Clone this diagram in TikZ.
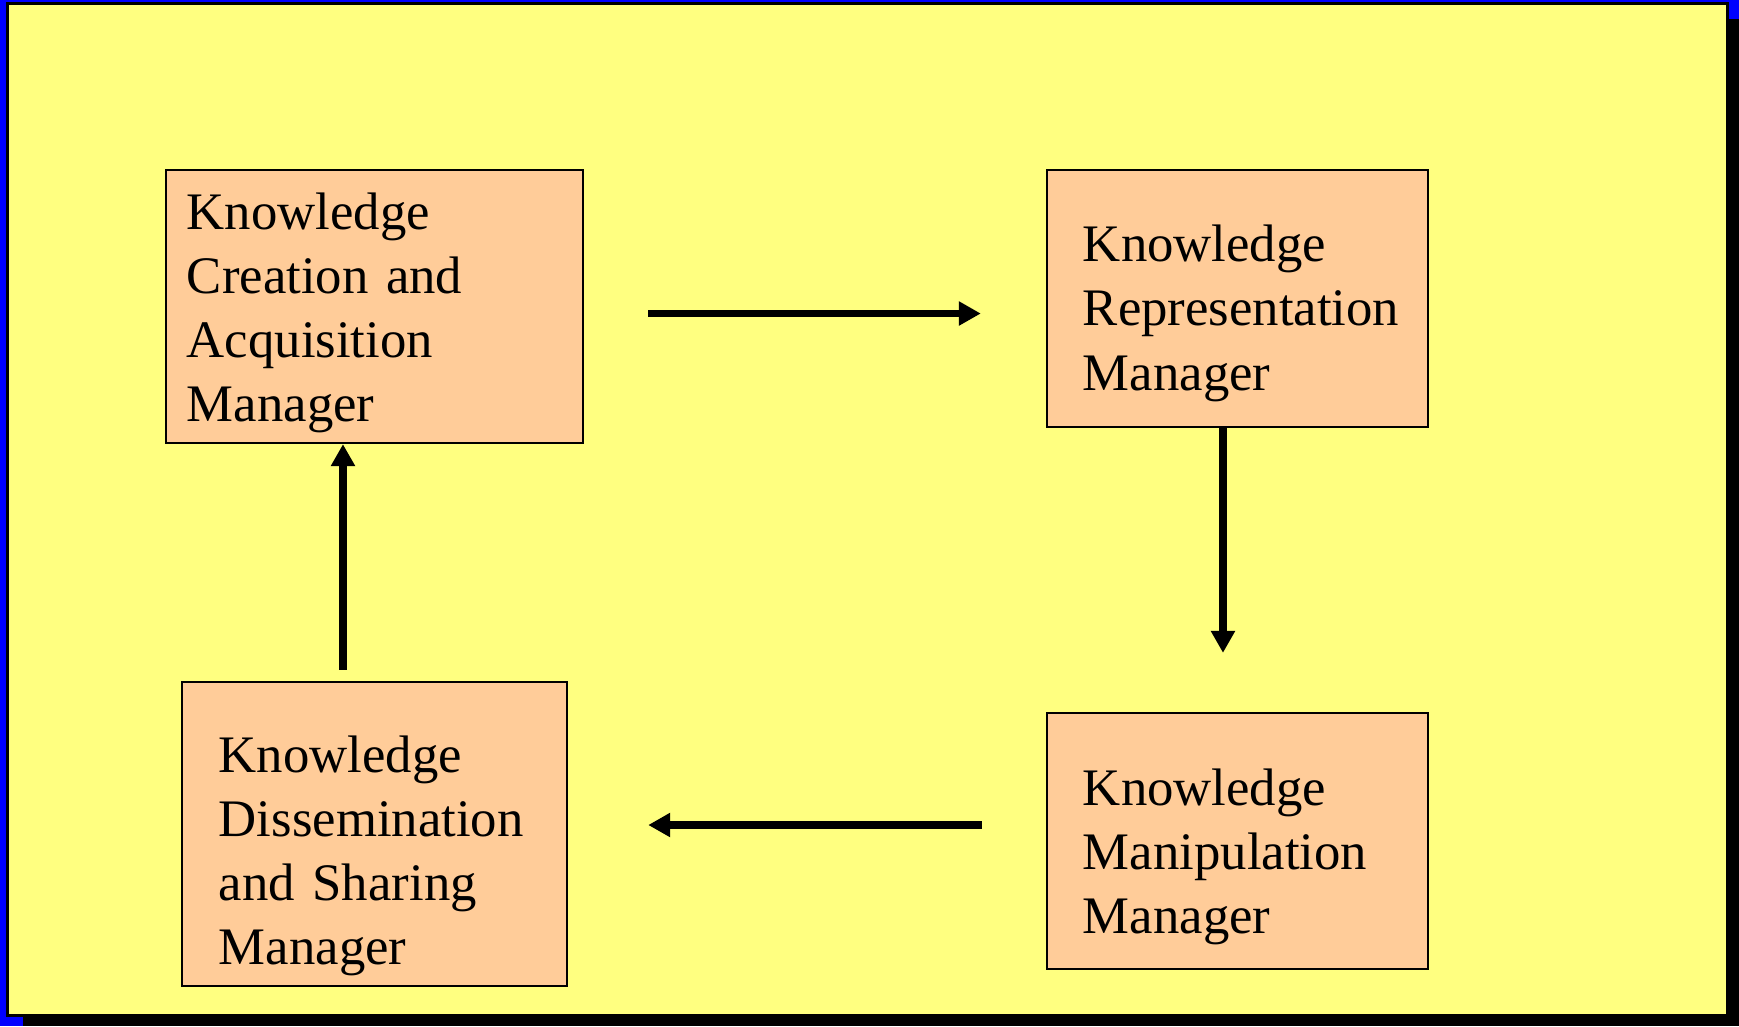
\documentclass[tikz,border=0pt]{standalone}
\usepackage{fontspec}
\setmainfont{Liberation Serif}
\usetikzlibrary{arrows.meta}
\definecolor{slidebg}{RGB}{255,255,128}
\definecolor{boxfill}{RGB}{255,204,153}
\begin{document}
\begin{tikzpicture}[x=0.01cm, y=-0.01cm,
			manager/.style={draw=black, line width=0.6pt, fill=boxfill, inner xsep=0pt, inner ysep=0pt,
				align=left, font=\fontsize{15}{18.2}\selectfont},
			flow/.style={line width=2pt, -{Triangle[length=2.2mm, width=2.3mm]}}]
			\useasboundingbox (0,0) rectangle (1739,1026);
			\fill[blue] (0,0) rectangle (1739,1026);
			\fill[black] (23,19) rectangle (1739,1026);
			\draw[fill=slidebg, line width=0.03cm] (7.5,3.5) rectangle (1727.5,1015.5);
			\node[manager, minimum width=4.17cm, minimum height=2.73cm, text width=3.75cm,
				text height=0.60cm, text depth=2.13cm] (creation) at (374.5,306.5)
				{Knowledge\\Creation and\\Acquisition\\Manager};
			\node[manager, minimum width=3.81cm, minimum height=2.57cm, text width=3.09cm,
				text height=0.92cm, text depth=1.65cm] (representation) at (1237.5,298.5)
				{Knowledge\\Representation\\Manager};
			\node[manager, minimum width=3.81cm, minimum height=2.56cm, text width=3.09cm,
				text height=0.92cm, text depth=1.64cm] (manipulation) at (1237.5,841)
				{Knowledge\\Manipulation\\Manager};
			\node[manager, minimum width=3.85cm, minimum height=3.04cm, text width=3.11cm,
				text height=0.91cm, text depth=2.13cm] (dissemination) at (374.5,834)
				{Knowledge\\Dissemination\\and Sharing\\Manager};
			\coordinate (creationout) at ([yshift=-0.07cm]creation.east);
			\coordinate (representationout) at ([xshift=-0.145cm]representation.south);
			\coordinate (manipulationout) at ([yshift=0.16cm]manipulation.west);
			\coordinate (disseminationout) at ([xshift=-0.315cm]dissemination.north);
			\draw[flow, shorten <=0.64cm, shorten >=0.65cm] (creationout) -- (creationout -| representation.west);
			\draw[flow, shorten >=0.59cm] (representationout) -- (representationout |- manipulation.north);
			\draw[flow, shorten <=0.64cm, shorten >=0.80cm] (manipulationout) -- (manipulationout -| dissemination.east);
			\draw[flow, shorten <=0.11cm] (disseminationout) -- (disseminationout |- creation.south);
\end{tikzpicture}
\end{document}
